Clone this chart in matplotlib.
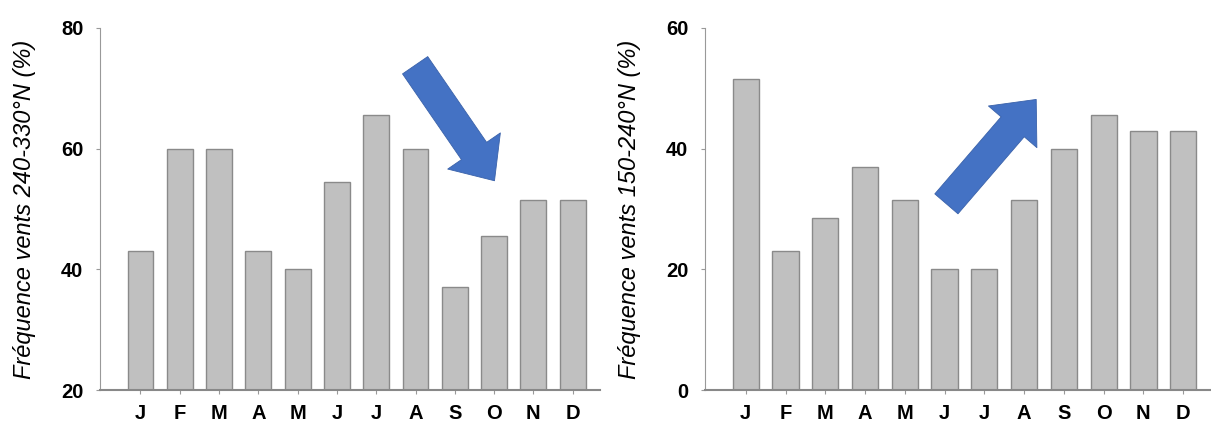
import numpy as np
import matplotlib.pyplot as plt

plt.rcParams['font.family'] = ['Liberation Sans', 'DejaVu Sans']

# Monthly frequency of winds by direction sector (%)
months = ['J', 'F', 'M', 'A', 'M', 'J', 'J', 'A', 'S', 'O', 'N', 'D']
freq_240_330 = [43, 60, 60, 43, 40, 54.5, 65.5, 60, 37, 45.5, 51.5, 51.5]
freq_150_240 = [51.5, 23, 28.5, 37, 31.5, 20, 20, 31.5, 40, 45.5, 43, 43]

ylabels = ['Fréquence vents 240-330°N (%)', 'Fréquence vents 150-240°N (%)']
yticks_left = [20, 40, 60, 80]
yticks_right = [0, 20, 40, 60]

bar_color = '#c0c0c0'
edge_color = '#8a8a8a'
arrow_color = '#4472c4'

fig = plt.figure(figsize=(12.11, 4.30), dpi=100)
ax1 = fig.add_axes([0.0826, 0.093, 0.413, 0.842])
ax2 = fig.add_axes([0.582, 0.093, 0.418, 0.842])

x = np.arange(len(months))

for ax, vals, ylab, yt in [(ax1, freq_240_330, ylabels[0], yticks_left),
                           (ax2, freq_150_240, ylabels[1], yticks_right)]:
    base = yt[0]
    ax.bar(x, np.array(vals) - base, bottom=base, width=0.66,
           color=bar_color, edgecolor=edge_color, linewidth=1.0, zorder=2)
    ax.set_ylim(yt[0], yt[-1])
    ax.set_yticks(yt)
    ax.set_xlim(-1.03, 11.7)
    ax.set_xticks(x)
    ax.set_xticklabels(months)
    for s in ['top', 'right']:
        ax.spines[s].set_visible(False)
    ax.spines['left'].set_color('#999999')
    ax.spines['bottom'].set_color('#888888')
    ax.spines['bottom'].set_linewidth(1.5)
    ax.tick_params(axis='y', length=3, color='#999999', labelsize=14.5, pad=9)
    ax.tick_params(axis='x', length=3, color='#999999', labelsize=14.5, pad=7)
    for lab in ax.get_xticklabels() + ax.get_yticklabels():
        lab.set_fontweight('bold')
    ax.set_ylabel(ylab, fontsize=17, style='italic', labelpad=18)

# trend arrows
arrow_style = 'simple, head_width=2.3, head_length=1.3, tail_width=1.1'
ax1.annotate('', xy=(9.05, 54.3), xytext=(6.95, 74.2),
             arrowprops=dict(arrowstyle=arrow_style, mutation_scale=20,
                             facecolor=arrow_color, edgecolor='#3a62aa', linewidth=0.6))
ax2.annotate('', xy=(7.35, 48.5), xytext=(5.0, 30.5),
             arrowprops=dict(arrowstyle=arrow_style, mutation_scale=20,
                             facecolor=arrow_color, edgecolor='#3a62aa', linewidth=0.6))

fig.savefig('out.png', dpi=100)
